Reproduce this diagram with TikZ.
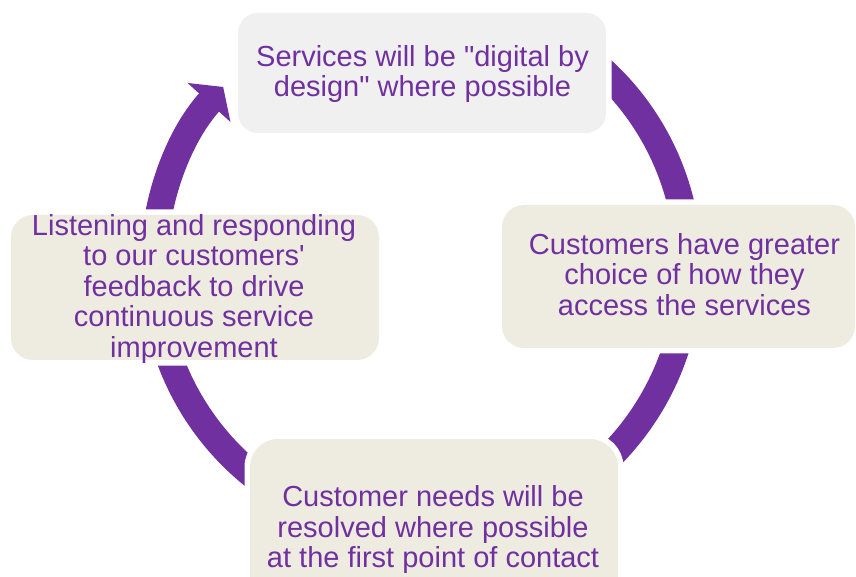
\documentclass[tikz,border=0pt]{standalone}
\usepackage{fontspec}
\setmainfont{Liberation Sans}
\usetikzlibrary{arrows.meta, positioning}
\definecolor{purp}{HTML}{7030A0}
\definecolor{beige}{HTML}{EEECE1}
\definecolor{pale}{HTML}{F0F0F0}
\tikzstyle{stepbox}=[rectangle, rounded corners=22pt, minimum width=368pt,
  minimum height=145pt, fill=beige, preaction={draw=white, line width=11pt}]
\tikzstyle{steptext}=[align=center, text=purp, inner sep=0pt,
  font=\fontsize{29}{30.5}\selectfont]

\begin{document}
\begin{tikzpicture}[x=1pt, y=1pt]
    \clip (0,0) rectangle (856,576);
    \coordinate (hub) at (421,309);
    \draw[purp, line width=27pt, -{Triangle[length=21pt, width=57pt]}]
      ([shift={(58:267.5)}]hub) arc[start angle=58, end angle=-222.3, radius=267.5];
    \node[stepbox, fill=pale, minimum height=120pt, rounded corners=20pt] (digital) at (422,503) {};
    \node[stepbox, minimum width=353pt, minimum height=143pt] (choice) at (678.5,299.5) {};
    \node[stepbox, minimum height=182pt, rounded corners=28pt] (resolve) at (434,46) {};
    \node[stepbox] (listen) at (195,288.5) {};
    \node[steptext] (digital-t) at (422.5,501.9) {Services will be \textquotedbl digital by\\design\textquotedbl{} where possible};
    \node[steptext] (choice-t) at (684.5,301.7) {Customers have greater\\choice of how they\\access the services};
    \node[steptext] (resolve-t) at (433,46.2) {Customer needs will be\\resolved where possible\\at the first point of contact};
    \node[steptext] (listen-t) at (194,287.3) {Listening and responding\\to our customers\textquotesingle\\feedback to drive\\continuous service\\improvement};
\end{tikzpicture}
\end{document}
